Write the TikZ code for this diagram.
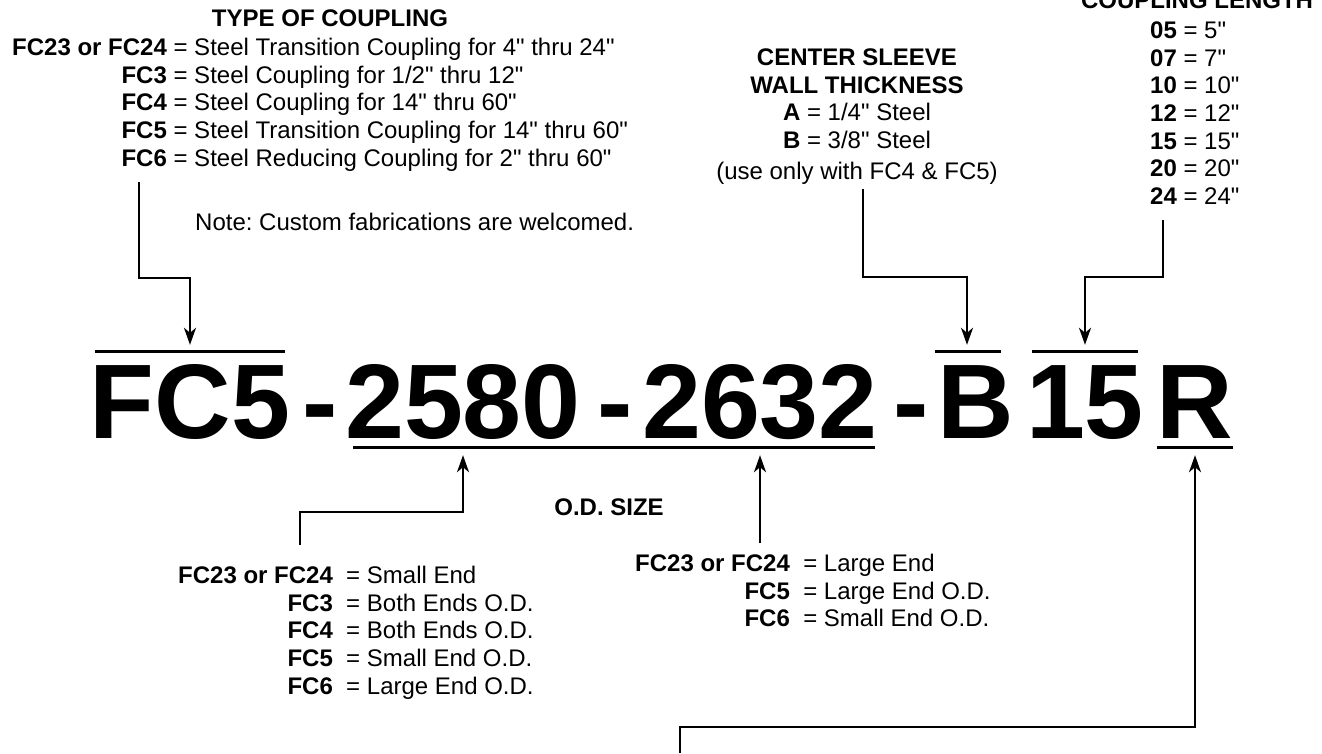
\documentclass[tikz,border=0pt]{standalone}
\usepackage{fontspec}
\setmainfont{Liberation Sans}[Ligatures=TeXOff]
\usetikzlibrary{arrows.meta}

\tikzset{
  txt/.style={inner sep=0pt, font=\fontsize{24}{27.6}\selectfont},
  hd/.style={inner sep=0pt, font=\fontsize{24}{27.6}\selectfont\bfseries},
  big/.style={inner sep=0pt, anchor=base, font=\fontsize{106}{110}\selectfont\bfseries,
    text height=86pt, text depth=9pt},
  conn/.style={line width=2.2pt},
  tip/.style={conn, -{Stealth[length=17pt,width=12pt,inset=5pt]}},
  bar/.style={line width=3pt}
}
\frenchspacing

\begin{document}
\begin{tikzpicture}[x=1pt, y=-1pt, line join=miter]
  \useasboundingbox (0,0) rectangle (1322,753);
  % type of coupling
  \node[hd, anchor=base] (typehd) at (330,26.6) {TYPE OF COUPLING};
  \node[txt, anchor=base west] (typelist) at (12,55.6) {\begin{tabular}[t]{@{}r@{ = }l@{}}
    \textbf{FC23 or FC24} & Steel Transition Coupling for 4" thru 24"\\
    \textbf{FC3} & Steel Coupling for 1/2" thru 12"\\
    \textbf{FC4} & Steel Coupling for 14" thru 60"\\
    \textbf{FC5} & Steel Transition Coupling for 14" thru 60"\\
    \textbf{FC6} & Steel Reducing Coupling for 2" thru 60"
  \end{tabular}};
  \node[txt, anchor=base west] (note) at (195,230.6) {Note: Custom fabrications are welcomed.};
  % center sleeve
  \node[txt, anchor=base] (wall) at (857,65.6) {\begin{tabular}[t]{@{}c@{}}
    \textbf{CENTER SLEEVE}\\
    \textbf{WALL THICKNESS}\\
    \textbf{A} = 1/4" Steel\\
    \textbf{B} = 3/8" Steel
  \end{tabular}};
  \node[txt, anchor=base] (wallnote) at (857,179) {(use only with FC4 \& FC5)};
  % coupling length
  \node[hd, anchor=base] (lenhd) at (1197,8) {COUPLING LENGTH};
  \node[txt, anchor=base west] (lenlist) at (1150,38.6) {\begin{tabular}[t]{@{}r@{ = }l@{}}
    \textbf{05} & 5"\\
    \textbf{07} & 7"\\
    \textbf{10} & 10"\\
    \textbf{12} & 12"\\
    \textbf{15} & 15"\\
    \textbf{20} & 20"\\
    \textbf{24} & 24"
  \end{tabular}};
  % the part number
  \node[big] (fc) at (190,438) {FC5};
  \node[big] (h1) at (320,438) {-};
  \node[big] (od1) at (463,438) {2580};
  \node[big] (h2) at (615,438) {-};
  \node[big] (od2) at (760,438) {2632};
  \node[big] (h3) at (911,438) {-};
  \node[big] (bb) at (976,438) {B};
  \node[big] (len) at (1085,438) {15};
  \node[big] (rr) at (1195,438) {R};
  \draw[bar] ([xshift=5pt]fc.north west) -- ([xshift=-5pt]fc.north east);
  \draw[bar] ([xshift=-3pt]bb.north west) -- ([xshift=-13pt]bb.north east);
  \draw[bar] ([xshift=6pt]len.north west) -- ([xshift=-6pt]len.north east);
  \draw[bar] ([xshift=8pt]od1.south west) -- ([xshift=-3pt]od2.south east);
  \draw[bar] (rr.south west) -- (rr.south east);
  % o.d. size
  \node[hd, anchor=base] (odhd) at (609,515.6) {O.D. SIZE};
  \node[txt, anchor=base west] (smlist) at (178,583.6) {\begin{tabular}[t]{@{}r@{\ \ = }l@{}}
    \textbf{FC23 or FC24} & Small End\\
    \textbf{FC3} & Both Ends O.D.\\
    \textbf{FC4} & Both Ends O.D.\\
    \textbf{FC5} & Small End O.D.\\
    \textbf{FC6} & Large End O.D.
  \end{tabular}};
  \node[txt, anchor=base west] (lglist) at (635,571.6) {\begin{tabular}[t]{@{}r@{\ \ = }l@{}}
    \textbf{FC23 or FC24} & Large End\\
    \textbf{FC5} & Large End O.D.\\
    \textbf{FC6} & Small End O.D.
  \end{tabular}};
  % connectors
  \coordinate (t1) at (139,182);
  \coordinate (t2) at (863,189);
  \coordinate (t3) at (1163,220);
  \coordinate (s1) at (300,545);
  \coordinate (s2) at (760,543);
  \coordinate (rbot) at (680,753);
  \draw[tip] (t1) -- ++(0,96) -| ([yshift=7pt]fc.north);
  \draw[tip] (t2) -- ++(0,88) -| ([xshift=-9pt,yshift=7pt]bb.north);
  \draw[tip] (t3) -- ++(0,57) -| ([yshift=7pt]len.north);
  \draw[tip] (s1) -- ++(0,-33) -| ([yshift=-8pt]od1.south);
  \draw[tip] (s2) -- ([yshift=-8pt]od2.south);
  \draw[tip] (rbot) -- ++(0,-26) -| ([yshift=-8pt]rr.south);
\end{tikzpicture}
\end{document}
